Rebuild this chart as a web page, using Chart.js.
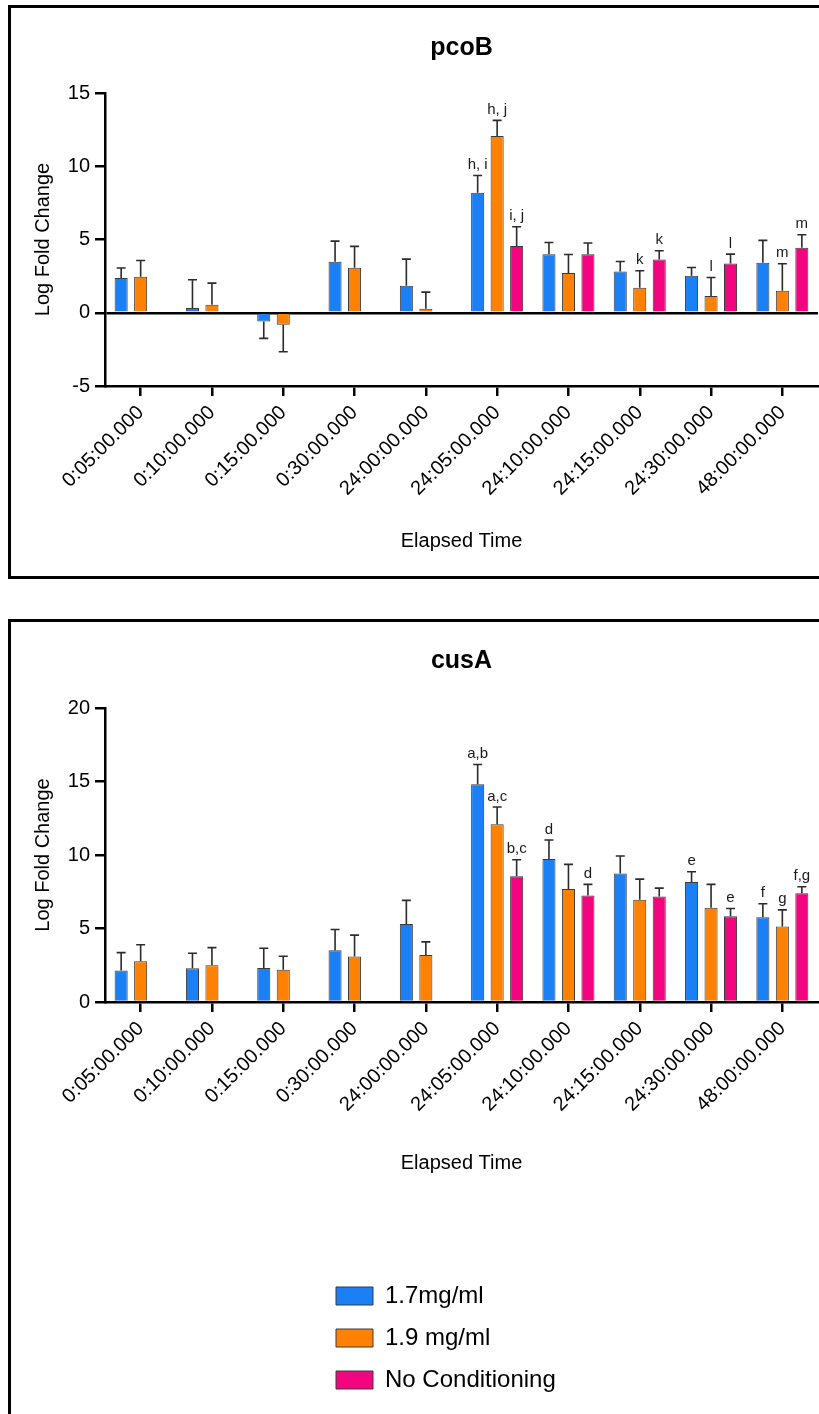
<!DOCTYPE html>
<html>
<head>
<meta charset="utf-8">
<script src="https://cdn.jsdelivr.net/npm/chart.js@4.4.1/dist/chart.umd.min.js"></script>
<style>
  html, body { margin: 0; padding: 0; background: #fff; overflow: hidden; }
  body { width: 819px; height: 1414px; position: relative; }
  .panel { position: absolute; border: 3px solid #000; box-sizing: border-box; }
  #panelTop { left: 8px; top: 5px; width: 840px; height: 574px; }
  #panelBottom { left: 8px; top: 619px; width: 840px; height: 830px; }
  canvas { position: absolute; }
</style>
</head>
<body>
<div class="panel" id="panelTop"></div>
<div class="panel" id="panelBottom"></div>
<canvas id="pcoB" width="822" height="580" style="left:0;top:0"></canvas>
<canvas id="cusA" width="822" height="600" style="left:0;top:600px"></canvas>
<canvas id="legend" width="640" height="150" style="left:318px;top:1266px"></canvas>
<script>
// categories and series
const timeLabels = ['0:05:00.000', '0:10:00.000', '0:15:00.000', '0:30:00.000', '24:00:00.000',
                    '24:05:00.000', '24:10:00.000', '24:15:00.000', '24:30:00.000', '48:00:00.000'];
const seriesNames = ['1.7mg/ml', '1.9 mg/ml', 'No Conditioning'];

// pcoB means and SD
const pcobLow  = [2.37, 0.32, -0.59, 3.48, 1.84, 8.19, 4.00, 2.82, 2.53, 3.41];
const pcobHigh = [2.46, 0.55, -0.82, 3.07, 0.27, 12.06, 2.71, 1.71, 1.14, 1.50];
const pcobNone = [null, null, null, null, null, 4.55, 4.00, 3.64, 3.37, 4.44];
const pcobLowSd  = [0.68, 1.93, 1.16, 1.41, 1.82, 1.18, 0.80, 0.68, 0.56, 1.53];
const pcobHighSd = [1.11, 1.47, 1.84, 1.46, 1.14, 1.07, 1.27, 1.16, 1.27, 1.84];
const pcobNoneSd = [null, null, null, null, null, 1.32, 0.76, 0.59, 0.63, 0.88];
const pcobLowMarks  = ['', '', '', '', '', 'h, i', '', '', '', ''];
const pcobHighMarks = ['', '', '', '', '', 'h, j', '', 'k', 'l', 'm'];
const pcobNoneMarks = ['', '', '', '', '', 'i, j', '', 'k', 'l', 'm'];

// cusA means and SD
const cusaLow  = [2.14, 2.30, 2.32, 3.52, 5.30, 14.82, 9.73, 8.75, 8.16, 5.77];
const cusaHigh = [2.77, 2.50, 2.20, 3.09, 3.20, 12.09, 7.68, 6.95, 6.41, 5.14];
const cusaNone = [null, null, null, null, null, 8.55, 7.25, 7.18, 5.84, 7.39];
const cusaLowSd  = [1.22, 1.02, 1.34, 1.41, 1.61, 1.34, 1.29, 1.18, 0.70, 0.91];
const cusaHighSd = [1.12, 1.20, 0.91, 1.46, 0.89, 1.18, 1.68, 1.41, 1.59, 1.13];
const cusaNoneSd = [null, null, null, null, null, 1.13, 0.75, 0.57, 0.52, 0.45];
const cusaLowMarks  = ['', '', '', '', '', 'a,b', 'd', '', 'e', 'f'];
const cusaHighMarks = ['', '', '', '', '', 'a,c', '', '', '', 'g'];
const cusaNoneMarks = ['', '', '', '', '', 'b,c', 'd', '', 'e', 'f,g'];

const barColors = ['#1b80f6', '#ff8104', '#f2057f'];
const barEdge = '#3b3b3b';
const fontFamily = '"Liberation Sans", Arial, Helvetica, sans-serif';

Chart.defaults.font.family = fontFamily;
Chart.defaults.color = '#000';

// one-sided SD bars with significance letters on top
const errorBars = {
  id: 'errorBars',
  afterDatasetsDraw(chart, args, opts) {
    const ctx = chart.ctx;
    const yScale = chart.scales.y;
    ctx.save();
    ctx.strokeStyle = '#2b2b2b';
    ctx.lineWidth = 1.6;
    ctx.fillStyle = '#1a1a1a';
    ctx.font = '15px ' + fontFamily;
    ctx.textAlign = 'center';
    ctx.textBaseline = 'bottom';
    chart.data.datasets.forEach((ds, i) => {
      const meta = chart.getDatasetMeta(i);
      meta.data.forEach((bar, j) => {
        const v = ds.data[j];
        if (v == null) return;
        const sd = opts.sd[i][j];
        const end = v < 0 ? v - sd : v + sd;
        const y0 = yScale.getPixelForValue(v);
        const y1 = yScale.getPixelForValue(end);
        ctx.beginPath();
        ctx.moveTo(bar.x, y0);
        ctx.lineTo(bar.x, y1);
        ctx.moveTo(bar.x - 4.5, y1);
        ctx.lineTo(bar.x + 4.5, y1);
        ctx.stroke();
        const txt = opts.marks[i][j];
        if (txt) ctx.fillText(txt, bar.x, y1 - 3);
      });
    });
    ctx.restore();
  }
};

function makeChart(id, title, series, sd, marks, yMin, yMax, geo) {
  const ctx = document.getElementById(id).getContext('2d');
  return new Chart(ctx, {
    type: 'bar',
    data: {
      labels: timeLabels,
      datasets: series.map((d, i) => ({
        label: seriesNames[i],
        data: d,
        backgroundColor: barColors[i],
        borderColor: barEdge,
        borderWidth: 1,
        categoryPercentage: 0.82,
        barPercentage: 0.67
      }))
    },
    options: {
      responsive: false,
      animation: false,
      events: [],
      layout: { padding: { left: 0, right: 4, top: 0, bottom: 0 } },
      plugins: {
        legend: { display: false },
        tooltip: { enabled: false },
        title: {
          display: true,
          text: title,
          fullSize: false,
          color: '#000',
          font: { size: 25, weight: 'bold' },
          padding: { top: geo.titleTop, bottom: geo.titleBottom }
        },
        errorBars: { sd: sd, marks: marks }
      },
      scales: {
        x: {
          ticks: { color: '#000', font: { size: 20 }, minRotation: 45, maxRotation: 45, autoSkip: false, padding: 5 },
          grid: { offset: false, drawOnChartArea: false, color: '#000', lineWidth: 2.5, tickLength: 10 },
          border: { color: '#000', width: 2.5 },
          title: { display: true, text: 'Elapsed Time', color: '#000', font: { size: 20 }, padding: { top: 0, bottom: geo.xTitlePad } },
          afterFit: s => { s.height = geo.xHeight; }
        },
        y: {
          min: yMin,
          max: yMax,
          ticks: { stepSize: 5, color: '#000', font: { size: 20 }, padding: 5 },
          grid: {
            drawOnChartArea: true,
            color: c => (c.tick && c.tick.value === 0 && yMin < 0) ? '#000' : 'rgba(0,0,0,0)',
            tickColor: '#000',
            lineWidth: 2.5,
            tickLength: 10
          },
          border: { color: '#000', width: 2.5 },
          title: { display: true, text: 'Log Fold Change', color: '#000', font: { size: 20 }, padding: { top: 31, bottom: 0 } },
          afterFit: s => { s.width = 105; }
        }
      }
    },
    plugins: [errorBars]
  });
}

makeChart('pcoB', 'pcoB',
  [pcobLow, pcobHigh, pcobNone],
  [pcobLowSd, pcobHighSd, pcobNoneSd],
  [pcobLowMarks, pcobHighMarks, pcobNoneMarks],
  -5, 15,
  { titleTop: 33, titleBottom: 30, xHeight: 194, xTitlePad: 27 });

makeChart('cusA', 'cusA',
  [cusaLow, cusaHigh, cusaNone],
  [cusaLowSd, cusaHighSd, cusaNoneSd],
  [cusaLowMarks, cusaHighMarks, cusaNoneMarks],
  0, 20,
  { titleTop: 46, titleBottom: 32, xHeight: 198, xTitlePad: 25 });

// legend for both panels, stacked vertically
new Chart(document.getElementById('legend').getContext('2d'), {
  type: 'bar',
  data: {
    labels: [],
    datasets: seriesNames.map((n, i) => ({
      label: n, data: [], backgroundColor: barColors[i], borderColor: barEdge, borderWidth: 1
    }))
  },
  options: {
    responsive: false,
    animation: false,
    events: [],
    plugins: {
      legend: {
        position: 'left',
        align: 'start',
        labels: { boxWidth: 37, boxHeight: 18, padding: 18, color: '#000', font: { size: 24 } }
      },
      tooltip: { enabled: false }
    },
    scales: { x: { display: false }, y: { display: false } }
  }
});
</script>
</body>
</html>
